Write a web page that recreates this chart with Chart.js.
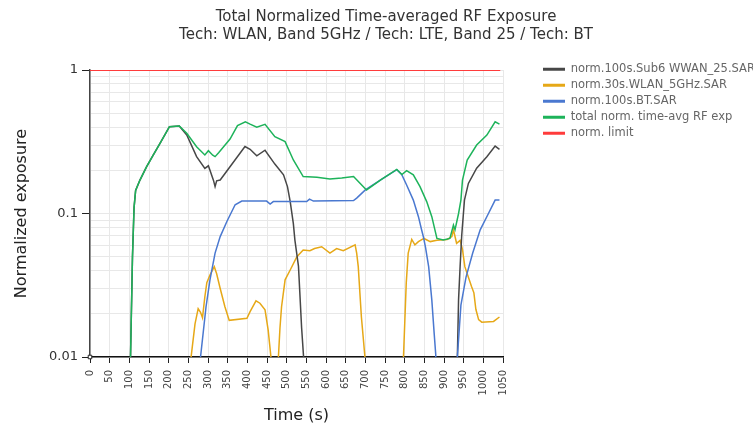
<!DOCTYPE html>
<html><head><meta charset="utf-8">
<script src="https://cdn.jsdelivr.net/npm/chart.js@4/dist/chart.umd.min.js"></script>
<style>html,body{margin:0;padding:0;background:#fff}#wrap{width:753px;height:428px}</style>
</head><body><div id="wrap"><canvas id="c" width="753" height="428"></canvas></div>
<script>
const titleLines = ["Total Normalized Time-averaged RF Exposure", "Tech: WLAN, Band 5GHz / Tech: LTE, Band 25 / Tech: BT"];
const seriesNames = ["norm.100s.Sub6 WWAN_25.SAR", "norm.30s.WLAN_5GHz.SAR", "norm.100s.BT.SAR", "total norm. time-avg RF exp", "norm. limit"];
const xTitle = "Time (s)";
const yTitle = "Normalized exposure";
const yLabelValues = [1, 0.1, 0.01];

const wwanT = [100,103,108,112,116,127,144,161,178,202,227,246,271,292,301,314,318,322,331,394,407,424,445,470,492,502,509,517,521,530,538,543,548,930,934,937,941,945,952,962,983,1009,1030,1041];
const wwanV = [0.001,0.01,0.05,0.11,0.145,0.171,0.212,0.256,0.308,0.403,0.407,0.353,0.249,0.206,0.215,0.17,0.154,0.169,0.171,0.293,0.28,0.252,0.276,0.221,0.186,0.154,0.121,0.085,0.065,0.043,0.016,0.01,0.001,0.001,0.01,0.025,0.043,0.07,0.124,0.162,0.207,0.249,0.295,0.28];

const wlanT = [250,257,267,275,281,286,292,297,305,316,322,331,343,354,399,407,422,432,445,453,460,465,474,479,483,487,496,509,526,542,559,571,589,610,627,644,674,678,682,690,699,704,792,797,804,809,818,826,835,849,865,882,908,920,924,932,941,947,953,962,970,976,981,988,996,1026,1041];
const wlanV = [0.001,0.01,0.017,0.0217,0.0205,0.0188,0.0263,0.033,0.0373,0.0426,0.038,0.030,0.0224,0.018,0.0186,0.0207,0.0246,0.0237,0.0213,0.0154,0.01,0.001,0.001,0.01,0.016,0.0224,0.0345,0.0404,0.05,0.0557,0.055,0.057,0.0587,0.053,0.057,0.055,0.0605,0.053,0.0426,0.019,0.01,0.001,0.001,0.01,0.0327,0.053,0.066,0.0605,0.0637,0.067,0.0637,0.065,0.066,0.069,0.077,0.062,0.065,0.056,0.0426,0.036,0.031,0.028,0.0215,0.0182,0.0175,0.0177,0.019];

const btT = [276,281,295,305,318,331,348,369,386,449,458,466,551,558,568,670,678,700,740,780,793,805,822,835,843,848,853,861,869,875,879,883,930,934,943,956,973,992,1000,1013,1030,1041];
const btV = [0.001,0.01,0.0224,0.0345,0.053,0.069,0.088,0.115,0.122,0.122,0.1165,0.121,0.121,0.126,0.122,0.123,0.128,0.146,0.172,0.202,0.186,0.158,0.124,0.095,0.077,0.068,0.058,0.0426,0.025,0.0146,0.0104,0.001,0.001,0.01,0.023,0.036,0.053,0.077,0.085,0.1,0.124,0.124];

const totT = [100,103,108,112,116,127,144,161,178,202,227,246,271,292,301,312,318,327,356,375,395,407,424,445,470,496,517,542,577,610,640,670,703,740,780,793,805,822,839,856,869,882,898,915,924,928,937,943,947,959,983,1009,1030,1041];
const totV = [0.001,0.01,0.05,0.11,0.145,0.171,0.212,0.256,0.308,0.403,0.407,0.362,0.292,0.256,0.274,0.255,0.249,0.265,0.33,0.41,0.436,0.42,0.40,0.418,0.343,0.317,0.236,0.181,0.179,0.174,0.177,0.181,0.146,0.172,0.203,0.187,0.199,0.186,0.154,0.121,0.095,0.067,0.0655,0.067,0.083,0.077,0.1,0.124,0.171,0.236,0.3,0.352,0.436,0.42];

const limT = [0, 1043];
const limV = [1, 1];

const colors = ["#474747", "#e6a817", "#4a78d0", "#1db35a", "#ff3b3b"];
const widths = [1.5, 1.5, 1.5, 1.5, 2];

function zip(ts, vs) { return ts.map((t, i) => ({x: t, y: vs[i]})); }
const seriesData = [zip(wwanT, wwanV), zip(wlanT, wlanV), zip(btT, btV), zip(totT, totV), zip(limT, limV)];
const drawOrder = [3, 4, 2, 1, 2];

const datasets = seriesData.map((d, i) => ({
  label: seriesNames[i], data: d, borderColor: colors[i], backgroundColor: colors[i],
  borderWidth: widths[i], pointRadius: 0, tension: 0, order: drawOrder[i]
}));
datasets.push({label: "", data: [{x: 0, y: 0.01}], showLine: false, pointStyle: "rect", pointRadius: 2.5,
  pointBackgroundColor: "#fff", pointBorderColor: "#222", pointBorderWidth: 1, clip: false, order: 0, legendHidden: true});

const FONT = "'DejaVu Sans', Verdana, sans-serif";
const OUTER_RIGHT = 762, CHART_RIGHT = 503, LEGEND_BOX_X = 543;

const legendPlacer = {
  id: "legendPlacer",
  afterLayout(chart) {
    const lg = chart.legend; if (!lg) return;
    lg.left = LEGEND_BOX_X - lg.options.labels.padding;
    lg.right = OUTER_RIGHT;
    lg.width = lg.right - lg.left;
  }
};

new Chart(document.getElementById("c"), {
  type: "line",
  data: { datasets },
  plugins: [legendPlacer],
  options: {
    responsive: false, animation: false, devicePixelRatio: 1,
    layout: { padding: { left: 10, right: -9, top: 0, bottom: 0 } },
    plugins: {
      title: { display: true, text: titleLines, color: "#333", font: { family: FONT, size: 15, weight: "normal", lineHeight: 1.2 }, padding: { top: 8, bottom: 26 } },
      legend: {
        position: "right", align: "start",
        title: { display: true, text: " ", font: { size: 10, lineHeight: 1.2 }, padding: { top: 47, bottom: 0 } },
        labels: {
          boxWidth: 22, boxHeight: 3, padding: 4.5, color: "#222", font: { family: FONT, size: 11.5 },
          generateLabels: (chart) => chart.data.datasets.map((ds, i) => ds.legendHidden ? null : ({
            text: ds.label, fillStyle: ds.borderColor, strokeStyle: ds.borderColor, lineWidth: 0, hidden: false, datasetIndex: i
          })).filter(Boolean)
        }
      },
      tooltip: { enabled: false }
    },
    scales: {
      x: {
        type: "linear", min: 0, max: 1050,
        ticks: { stepSize: 50, autoSkip: false, minRotation: 90, maxRotation: 90, color: "#444", font: { family: FONT, size: 10 }, padding: 7,
          callback: (v) => String(v) },
        grid: { color: "#e8e8e8", tickColor: "#222", tickLength: 6 },
        border: { color: "#111", width: 1.5 },
        title: { display: true, text: xTitle, color: "#222", font: { family: FONT, size: 16 }, padding: { top: 0, bottom: 3 } },
        afterFit: (s) => { s.height = 71; }
      },
      y: {
        type: "logarithmic", min: 0.01, max: 1,
        afterBuildTicks: (s) => {
          const vals = [];
          [0.01, 0.1].forEach(b => { for (let k = 1; k <= 9; k++) vals.push(+(b * k).toFixed(4)); });
          vals.push(1);
          s.ticks = vals.map(v => ({ value: v }));
        },
        ticks: {
          color: "#333", font: { family: FONT, size: 13 }, padding: 4, autoSkip: false,
          callback: (v) => { const m = yLabelValues.find(l => Math.abs(l - v) < 1e-9); return m === undefined ? "" : String(m); }
        },
        grid: { color: "#e8e8e8", tickLength: 8,
          tickColor: (ctx) => (ctx.tick && yLabelValues.some(l => Math.abs(l - ctx.tick.value) < 1e-9)) ? "#222" : "rgba(0,0,0,0)" },
        border: { color: "#444", width: 1.5 },
        title: { display: true, text: yTitle, color: "#222", font: { family: FONT, size: 16 }, padding: { top: 2, bottom: 0 } },
        afterFit: (s) => { s.width = 80; }
      },
      pad: {
        type: "linear", position: "right", display: true,
        grid: { display: false, drawTicks: false }, border: { display: false }, ticks: { display: false },
        afterFit: (s) => { const lg = s.chart.legend; s.width = Math.max(0, OUTER_RIGHT - (lg ? lg.width : 125) - CHART_RIGHT); }
      }
    }
  }
});
</script></body></html>
